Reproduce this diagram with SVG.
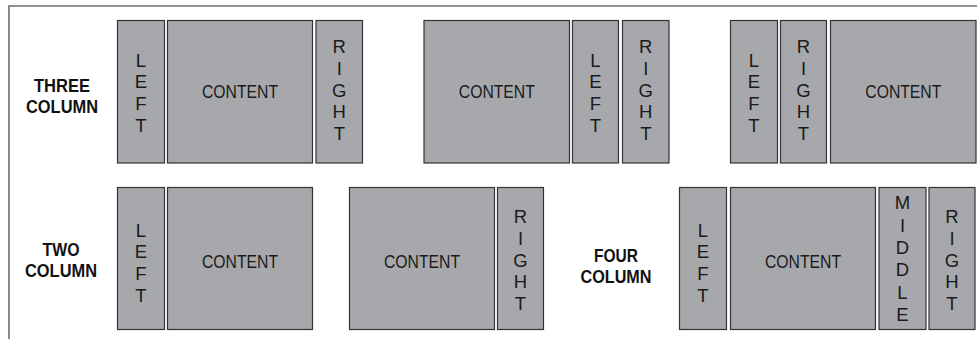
<svg xmlns="http://www.w3.org/2000/svg" width="977" height="339" viewBox="0 0 977 339">
  <style>
    .box { fill: #a7a8ab; stroke: #333333; stroke-width: 1.2; }
    .frame { fill: none; stroke: #6e6e6e; stroke-width: 1.6; }
    .lbl { font-family: "Liberation Sans", Arial, sans-serif; font-size: 18.5px; fill: #1a1a1a; text-anchor: middle; }
    .row { font-family: "Liberation Sans", Arial, sans-serif; font-size: 18.5px; font-weight: bold; fill: #111111; text-anchor: middle; }
  </style>

  <!-- outer frame (top and left edges) -->
  <path class="frame" d="M9,339 V6 H977"/>

  <!-- row titles -->
  <g id="title-three">
    <text class="row" x="62" y="91.5" textLength="56" lengthAdjust="spacingAndGlyphs">THREE</text>
    <text class="row" x="62" y="113.3" textLength="72" lengthAdjust="spacingAndGlyphs">COLUMN</text>
  </g>
  <g id="title-two">
    <text class="row" x="61" y="256" textLength="37" lengthAdjust="spacingAndGlyphs">TWO</text>
    <text class="row" x="61" y="276.5" textLength="72" lengthAdjust="spacingAndGlyphs">COLUMN</text>
  </g>
  <g id="title-four">
    <text class="row" x="616" y="261.7" textLength="44" lengthAdjust="spacingAndGlyphs">FOUR</text>
    <text class="row" x="616" y="283.3" textLength="71" lengthAdjust="spacingAndGlyphs">COLUMN</text>
  </g>

  <!-- three column: left / content / right -->
  <g id="t1-left">
    <rect class="box" x="117.5" y="20.5" width="47" height="142.5"/>
    <text class="lbl"><tspan x="141" y="66.7">L</tspan><tspan x="141" dy="21.7">E</tspan><tspan x="141" dy="21.7">F</tspan><tspan x="141" dy="21.7">T</tspan></text>
  </g>
  <g id="t1-content">
    <rect class="box" x="167.5" y="20.5" width="145" height="142.5"/>
    <text class="lbl" x="240" y="98.3" textLength="76" lengthAdjust="spacingAndGlyphs">CONTENT</text>
  </g>
  <g id="t1-right">
    <rect class="box" x="316" y="20.5" width="46.5" height="142.5"/>
    <text class="lbl"><tspan x="339.3" y="53.3">R</tspan><tspan x="339.3" dy="21.7">I</tspan><tspan x="339.3" dy="21.7">G</tspan><tspan x="339.3" dy="21.7">H</tspan><tspan x="339.3" dy="21.7">T</tspan></text>
  </g>

  <!-- three column: content / left / right -->
  <g id="t2-content">
    <rect class="box" x="424" y="20.5" width="145.5" height="142.5"/>
    <text class="lbl" x="496.8" y="98.3" textLength="76" lengthAdjust="spacingAndGlyphs">CONTENT</text>
  </g>
  <g id="t2-left">
    <rect class="box" x="572.5" y="20.5" width="46" height="142.5"/>
    <text class="lbl"><tspan x="595.5" y="66.7">L</tspan><tspan x="595.5" dy="21.7">E</tspan><tspan x="595.5" dy="21.7">F</tspan><tspan x="595.5" dy="21.7">T</tspan></text>
  </g>
  <g id="t2-right">
    <rect class="box" x="622.5" y="20.5" width="46.5" height="142.5"/>
    <text class="lbl"><tspan x="645.8" y="53.3">R</tspan><tspan x="645.8" dy="21.7">I</tspan><tspan x="645.8" dy="21.7">G</tspan><tspan x="645.8" dy="21.7">H</tspan><tspan x="645.8" dy="21.7">T</tspan></text>
  </g>

  <!-- three column: left / right / content -->
  <g id="t3-left">
    <rect class="box" x="730.5" y="20.5" width="47" height="142.5"/>
    <text class="lbl"><tspan x="754" y="66.7">L</tspan><tspan x="754" dy="21.7">E</tspan><tspan x="754" dy="21.7">F</tspan><tspan x="754" dy="21.7">T</tspan></text>
  </g>
  <g id="t3-right">
    <rect class="box" x="780.5" y="20.5" width="46" height="142.5"/>
    <text class="lbl"><tspan x="803.5" y="53.3">R</tspan><tspan x="803.5" dy="21.7">I</tspan><tspan x="803.5" dy="21.7">G</tspan><tspan x="803.5" dy="21.7">H</tspan><tspan x="803.5" dy="21.7">T</tspan></text>
  </g>
  <g id="t3-content">
    <rect class="box" x="830.5" y="20.5" width="145.5" height="142.5"/>
    <text class="lbl" x="903.3" y="98.3" textLength="76" lengthAdjust="spacingAndGlyphs">CONTENT</text>
  </g>

  <!-- two column: left / content -->
  <g id="w1-left">
    <rect class="box" x="117.5" y="187.5" width="47" height="142"/>
    <text class="lbl"><tspan x="141" y="236.7">L</tspan><tspan x="141" dy="21.7">E</tspan><tspan x="141" dy="21.7">F</tspan><tspan x="141" dy="21.7">T</tspan></text>
  </g>
  <g id="w1-content">
    <rect class="box" x="167.5" y="187.5" width="145" height="142"/>
    <text class="lbl" x="240" y="268.3" textLength="76" lengthAdjust="spacingAndGlyphs">CONTENT</text>
  </g>

  <!-- two column: content / right -->
  <g id="w2-content">
    <rect class="box" x="349.5" y="187.5" width="145" height="142"/>
    <text class="lbl" x="422" y="268.3" textLength="76" lengthAdjust="spacingAndGlyphs">CONTENT</text>
  </g>
  <g id="w2-right">
    <rect class="box" x="497.5" y="187.5" width="46" height="142"/>
    <text class="lbl"><tspan x="520.5" y="223.3">R</tspan><tspan x="520.5" dy="21.7">I</tspan><tspan x="520.5" dy="21.7">G</tspan><tspan x="520.5" dy="21.7">H</tspan><tspan x="520.5" dy="21.7">T</tspan></text>
  </g>

  <!-- four column: left / content / middle / right -->
  <g id="f-left">
    <rect class="box" x="679.5" y="187.5" width="47" height="142"/>
    <text class="lbl"><tspan x="703" y="236.7">L</tspan><tspan x="703" dy="21.7">E</tspan><tspan x="703" dy="21.7">F</tspan><tspan x="703" dy="21.7">T</tspan></text>
  </g>
  <g id="f-content">
    <rect class="box" x="730.5" y="187.5" width="145" height="142"/>
    <text class="lbl" x="803" y="268.3" textLength="76" lengthAdjust="spacingAndGlyphs">CONTENT</text>
  </g>
  <g id="f-middle">
    <rect class="box" x="879" y="187.5" width="47" height="142"/>
    <text class="lbl"><tspan x="902.5" y="209.3">M</tspan><tspan x="902.5" dy="22.3">I</tspan><tspan x="902.5" dy="22.3">D</tspan><tspan x="902.5" dy="22.3">D</tspan><tspan x="902.5" dy="22.3">L</tspan><tspan x="902.5" dy="22.3">E</tspan></text>
  </g>
  <g id="f-right">
    <rect class="box" x="929" y="187.5" width="46" height="142"/>
    <text class="lbl"><tspan x="952" y="223.3">R</tspan><tspan x="952" dy="21.7">I</tspan><tspan x="952" dy="21.7">G</tspan><tspan x="952" dy="21.7">H</tspan><tspan x="952" dy="21.7">T</tspan></text>
  </g>

  <!-- no connectors in this layout chart -->
  <g id="connectors"/>
</svg>
